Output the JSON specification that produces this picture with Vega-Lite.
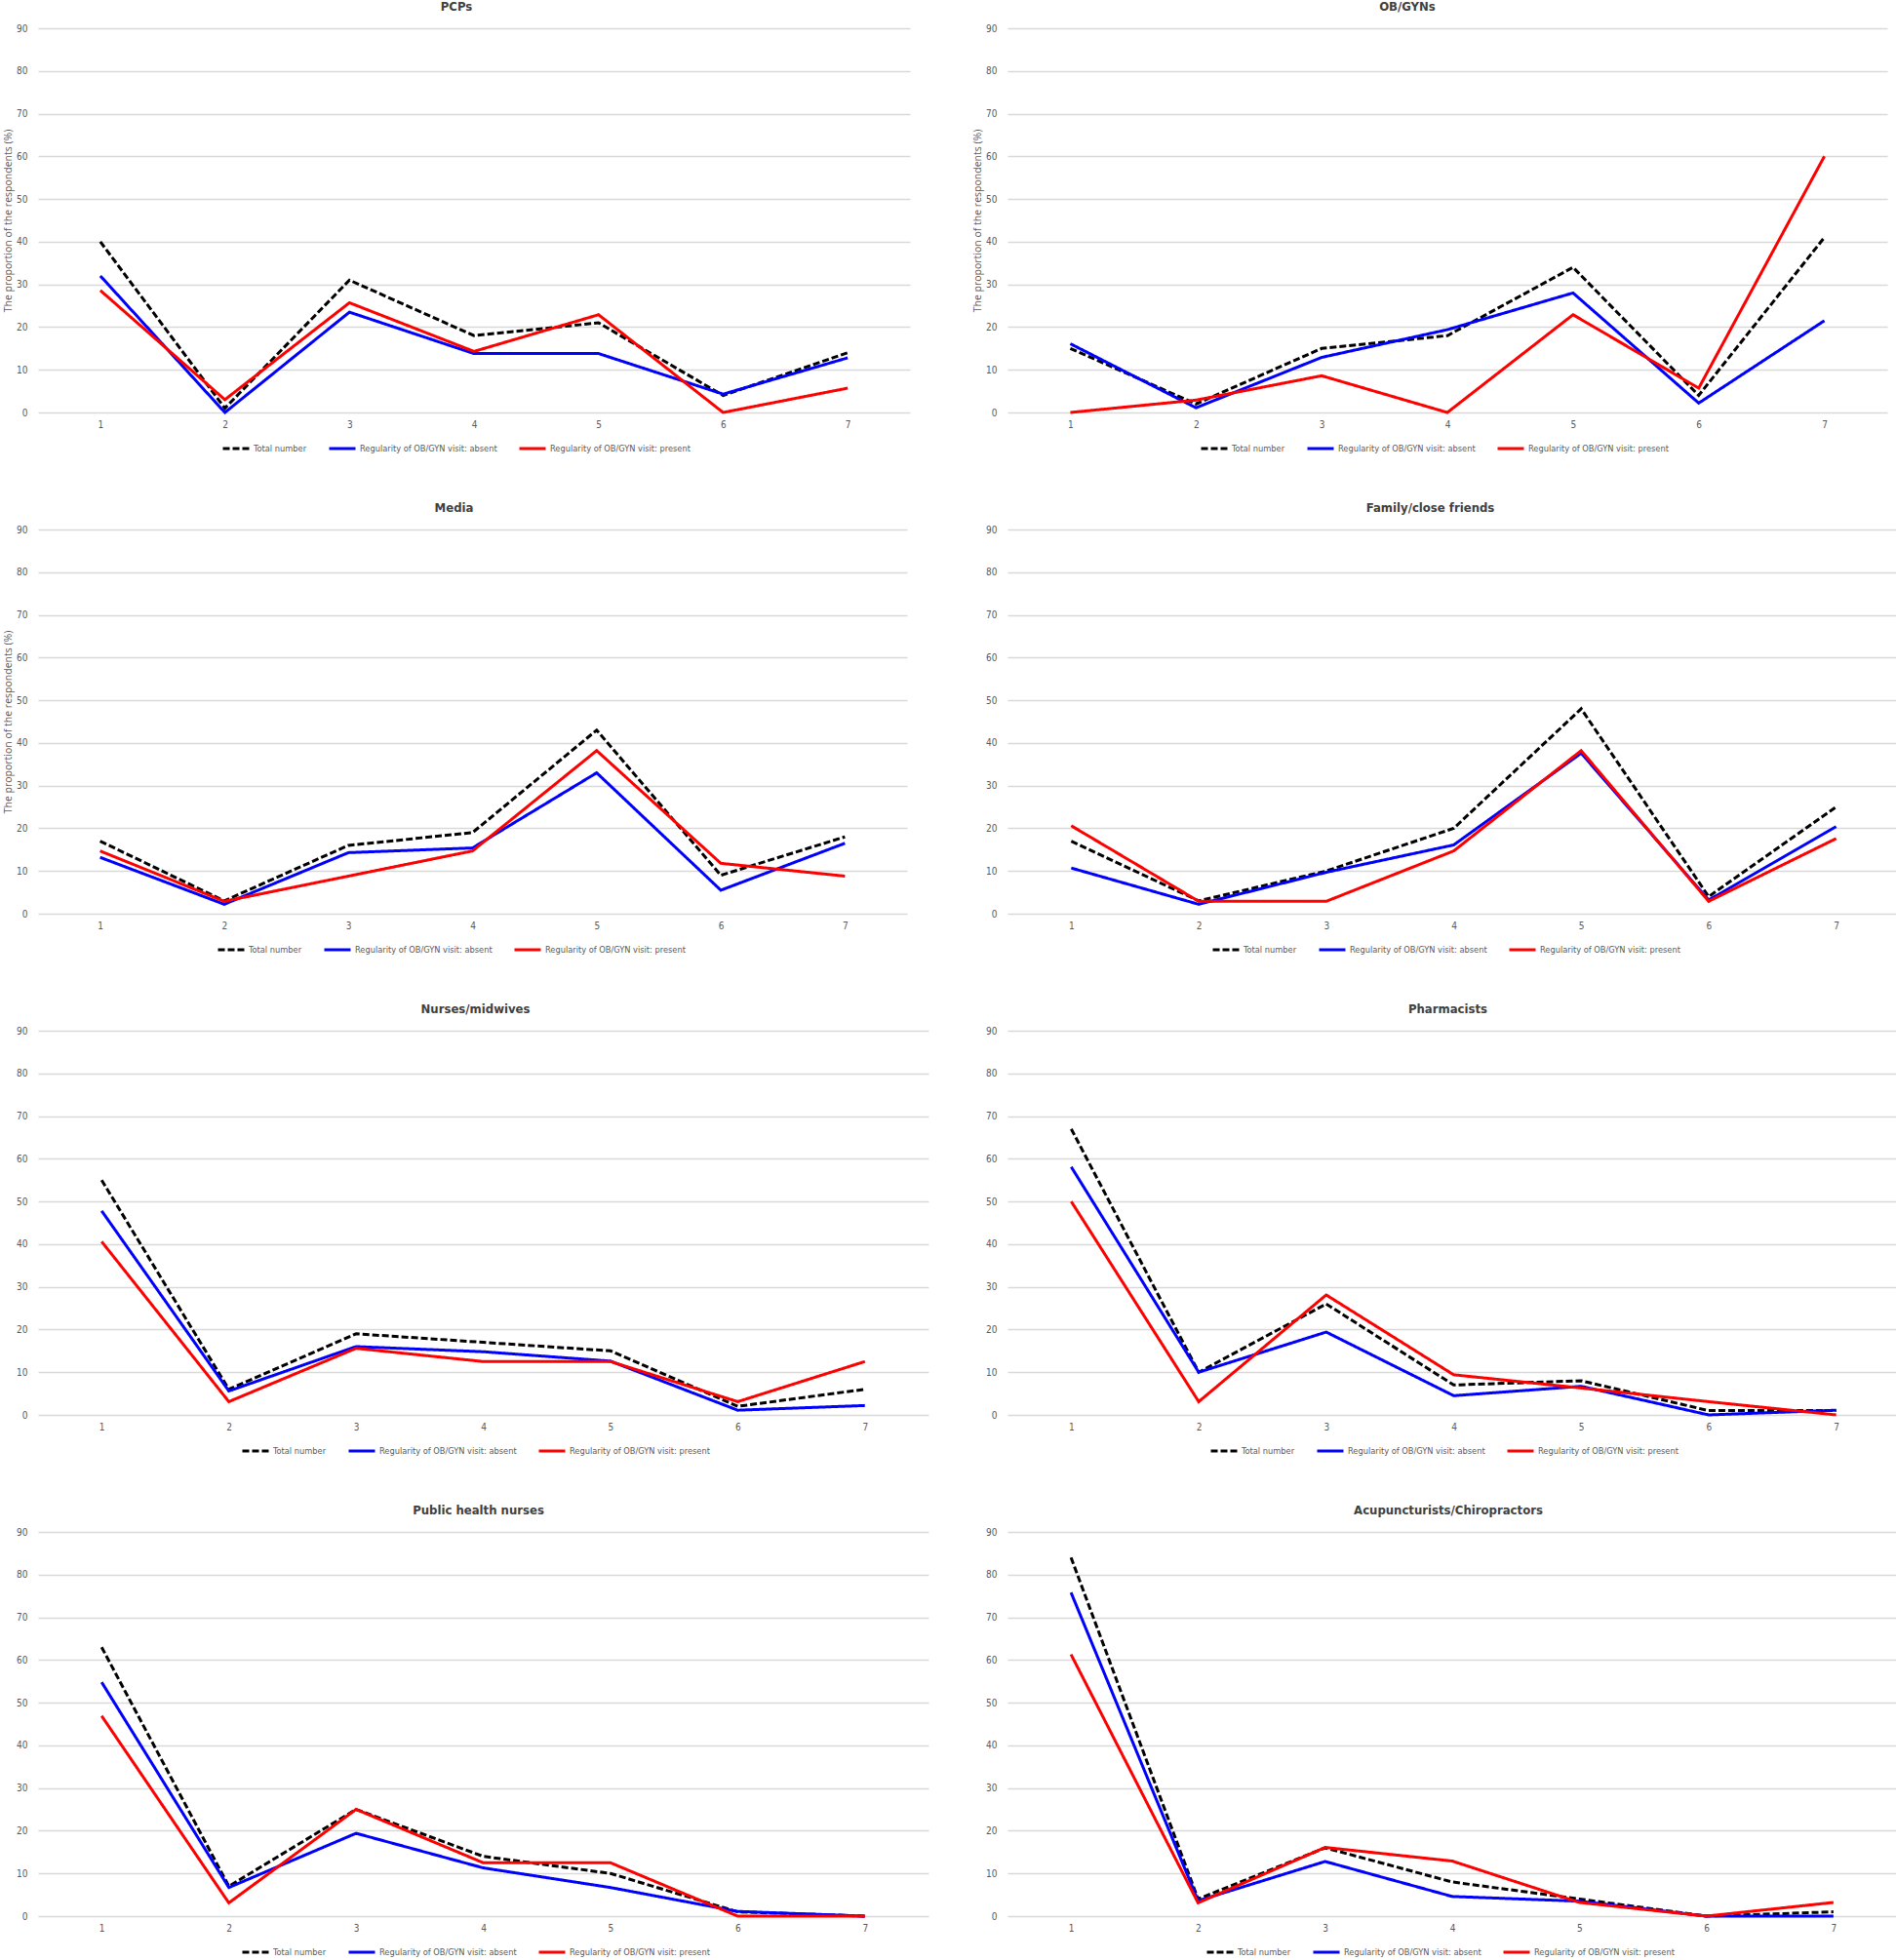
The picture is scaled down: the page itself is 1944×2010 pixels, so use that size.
{
  "$schema": "https://vega.github.io/schema/vega-lite/v6.json",
  "padding": {"left": 3, "top": 1, "right": 0, "bottom": 0},
  "background": "white",
  "data": {"values": [
    {"p":"PCPs","s":"Total number","c":1,"v":40},{"p":"PCPs","s":"Total number","c":2,"v":1},{"p":"PCPs","s":"Total number","c":3,"v":31},{"p":"PCPs","s":"Total number","c":4,"v":18},{"p":"PCPs","s":"Total number","c":5,"v":21},{"p":"PCPs","s":"Total number","c":6,"v":4},{"p":"PCPs","s":"Total number","c":7,"v":14},
    {"p":"PCPs","s":"Regularity of OB/GYN visit: absent","c":1,"v":32},{"p":"PCPs","s":"Regularity of OB/GYN visit: absent","c":2,"v":0},{"p":"PCPs","s":"Regularity of OB/GYN visit: absent","c":3,"v":23.5},{"p":"PCPs","s":"Regularity of OB/GYN visit: absent","c":4,"v":13.8},{"p":"PCPs","s":"Regularity of OB/GYN visit: absent","c":5,"v":13.8},{"p":"PCPs","s":"Regularity of OB/GYN visit: absent","c":6,"v":4.3},{"p":"PCPs","s":"Regularity of OB/GYN visit: absent","c":7,"v":12.8},
    {"p":"PCPs","s":"Regularity of OB/GYN visit: present","c":1,"v":28.6},{"p":"PCPs","s":"Regularity of OB/GYN visit: present","c":2,"v":3},{"p":"PCPs","s":"Regularity of OB/GYN visit: present","c":3,"v":25.7},{"p":"PCPs","s":"Regularity of OB/GYN visit: present","c":4,"v":14.3},{"p":"PCPs","s":"Regularity of OB/GYN visit: present","c":5,"v":22.9},{"p":"PCPs","s":"Regularity of OB/GYN visit: present","c":6,"v":0},{"p":"PCPs","s":"Regularity of OB/GYN visit: present","c":7,"v":5.7},

    {"p":"OB/GYNs","s":"Total number","c":1,"v":15},{"p":"OB/GYNs","s":"Total number","c":2,"v":2},{"p":"OB/GYNs","s":"Total number","c":3,"v":15},{"p":"OB/GYNs","s":"Total number","c":4,"v":18},{"p":"OB/GYNs","s":"Total number","c":5,"v":34},{"p":"OB/GYNs","s":"Total number","c":6,"v":4},{"p":"OB/GYNs","s":"Total number","c":7,"v":41},
    {"p":"OB/GYNs","s":"Regularity of OB/GYN visit: absent","c":1,"v":16.1},{"p":"OB/GYNs","s":"Regularity of OB/GYN visit: absent","c":2,"v":1.1},{"p":"OB/GYNs","s":"Regularity of OB/GYN visit: absent","c":3,"v":12.9},{"p":"OB/GYNs","s":"Regularity of OB/GYN visit: absent","c":4,"v":19.4},{"p":"OB/GYNs","s":"Regularity of OB/GYN visit: absent","c":5,"v":28},{"p":"OB/GYNs","s":"Regularity of OB/GYN visit: absent","c":6,"v":2.2},{"p":"OB/GYNs","s":"Regularity of OB/GYN visit: absent","c":7,"v":21.5},
    {"p":"OB/GYNs","s":"Regularity of OB/GYN visit: present","c":1,"v":0},{"p":"OB/GYNs","s":"Regularity of OB/GYN visit: present","c":2,"v":2.9},{"p":"OB/GYNs","s":"Regularity of OB/GYN visit: present","c":3,"v":8.6},{"p":"OB/GYNs","s":"Regularity of OB/GYN visit: present","c":4,"v":0},{"p":"OB/GYNs","s":"Regularity of OB/GYN visit: present","c":5,"v":22.9},{"p":"OB/GYNs","s":"Regularity of OB/GYN visit: present","c":6,"v":5.7},{"p":"OB/GYNs","s":"Regularity of OB/GYN visit: present","c":7,"v":60},

    {"p":"Media","s":"Total number","c":1,"v":17},{"p":"Media","s":"Total number","c":2,"v":3},{"p":"Media","s":"Total number","c":3,"v":16},{"p":"Media","s":"Total number","c":4,"v":19},{"p":"Media","s":"Total number","c":5,"v":43},{"p":"Media","s":"Total number","c":6,"v":9},{"p":"Media","s":"Total number","c":7,"v":18},
    {"p":"Media","s":"Regularity of OB/GYN visit: absent","c":1,"v":13.2},{"p":"Media","s":"Regularity of OB/GYN visit: absent","c":2,"v":2.2},{"p":"Media","s":"Regularity of OB/GYN visit: absent","c":3,"v":14.3},{"p":"Media","s":"Regularity of OB/GYN visit: absent","c":4,"v":15.4},{"p":"Media","s":"Regularity of OB/GYN visit: absent","c":5,"v":33},{"p":"Media","s":"Regularity of OB/GYN visit: absent","c":6,"v":5.5},{"p":"Media","s":"Regularity of OB/GYN visit: absent","c":7,"v":16.5},
    {"p":"Media","s":"Regularity of OB/GYN visit: present","c":1,"v":14.7},{"p":"Media","s":"Regularity of OB/GYN visit: present","c":2,"v":2.9},{"p":"Media","s":"Regularity of OB/GYN visit: present","c":3,"v":8.8},{"p":"Media","s":"Regularity of OB/GYN visit: present","c":4,"v":14.7},{"p":"Media","s":"Regularity of OB/GYN visit: present","c":5,"v":38.2},{"p":"Media","s":"Regularity of OB/GYN visit: present","c":6,"v":11.8},{"p":"Media","s":"Regularity of OB/GYN visit: present","c":7,"v":8.8},

    {"p":"Family/close friends","s":"Total number","c":1,"v":17},{"p":"Family/close friends","s":"Total number","c":2,"v":3},{"p":"Family/close friends","s":"Total number","c":3,"v":10},{"p":"Family/close friends","s":"Total number","c":4,"v":20},{"p":"Family/close friends","s":"Total number","c":5,"v":48},{"p":"Family/close friends","s":"Total number","c":6,"v":4},{"p":"Family/close friends","s":"Total number","c":7,"v":25},
    {"p":"Family/close friends","s":"Regularity of OB/GYN visit: absent","c":1,"v":10.7},{"p":"Family/close friends","s":"Regularity of OB/GYN visit: absent","c":2,"v":2.2},{"p":"Family/close friends","s":"Regularity of OB/GYN visit: absent","c":3,"v":9.7},{"p":"Family/close friends","s":"Regularity of OB/GYN visit: absent","c":4,"v":16.1},{"p":"Family/close friends","s":"Regularity of OB/GYN visit: absent","c":5,"v":37.6},{"p":"Family/close friends","s":"Regularity of OB/GYN visit: absent","c":6,"v":3.2},{"p":"Family/close friends","s":"Regularity of OB/GYN visit: absent","c":7,"v":20.4},
    {"p":"Family/close friends","s":"Regularity of OB/GYN visit: present","c":1,"v":20.6},{"p":"Family/close friends","s":"Regularity of OB/GYN visit: present","c":2,"v":2.9},{"p":"Family/close friends","s":"Regularity of OB/GYN visit: present","c":3,"v":2.9},{"p":"Family/close friends","s":"Regularity of OB/GYN visit: present","c":4,"v":14.7},{"p":"Family/close friends","s":"Regularity of OB/GYN visit: present","c":5,"v":38.2},{"p":"Family/close friends","s":"Regularity of OB/GYN visit: present","c":6,"v":2.9},{"p":"Family/close friends","s":"Regularity of OB/GYN visit: present","c":7,"v":17.6},

    {"p":"Nurses/midwives","s":"Total number","c":1,"v":55},{"p":"Nurses/midwives","s":"Total number","c":2,"v":6},{"p":"Nurses/midwives","s":"Total number","c":3,"v":19},{"p":"Nurses/midwives","s":"Total number","c":4,"v":17},{"p":"Nurses/midwives","s":"Total number","c":5,"v":15},{"p":"Nurses/midwives","s":"Total number","c":6,"v":2},{"p":"Nurses/midwives","s":"Total number","c":7,"v":6},
    {"p":"Nurses/midwives","s":"Regularity of OB/GYN visit: absent","c":1,"v":47.8},{"p":"Nurses/midwives","s":"Regularity of OB/GYN visit: absent","c":2,"v":5.6},{"p":"Nurses/midwives","s":"Regularity of OB/GYN visit: absent","c":3,"v":16},{"p":"Nurses/midwives","s":"Regularity of OB/GYN visit: absent","c":4,"v":14.8},{"p":"Nurses/midwives","s":"Regularity of OB/GYN visit: absent","c":5,"v":12.6},{"p":"Nurses/midwives","s":"Regularity of OB/GYN visit: absent","c":6,"v":1.1},{"p":"Nurses/midwives","s":"Regularity of OB/GYN visit: absent","c":7,"v":2.2},
    {"p":"Nurses/midwives","s":"Regularity of OB/GYN visit: present","c":1,"v":40.6},{"p":"Nurses/midwives","s":"Regularity of OB/GYN visit: present","c":2,"v":3.1},{"p":"Nurses/midwives","s":"Regularity of OB/GYN visit: present","c":3,"v":15.6},{"p":"Nurses/midwives","s":"Regularity of OB/GYN visit: present","c":4,"v":12.5},{"p":"Nurses/midwives","s":"Regularity of OB/GYN visit: present","c":5,"v":12.5},{"p":"Nurses/midwives","s":"Regularity of OB/GYN visit: present","c":6,"v":3.1},{"p":"Nurses/midwives","s":"Regularity of OB/GYN visit: present","c":7,"v":12.5},

    {"p":"Pharmacists","s":"Total number","c":1,"v":67},{"p":"Pharmacists","s":"Total number","c":2,"v":10},{"p":"Pharmacists","s":"Total number","c":3,"v":26},{"p":"Pharmacists","s":"Total number","c":4,"v":7},{"p":"Pharmacists","s":"Total number","c":5,"v":8},{"p":"Pharmacists","s":"Total number","c":6,"v":1},{"p":"Pharmacists","s":"Total number","c":7,"v":1},
    {"p":"Pharmacists","s":"Regularity of OB/GYN visit: absent","c":1,"v":58.1},{"p":"Pharmacists","s":"Regularity of OB/GYN visit: absent","c":2,"v":10},{"p":"Pharmacists","s":"Regularity of OB/GYN visit: absent","c":3,"v":19.4},{"p":"Pharmacists","s":"Regularity of OB/GYN visit: absent","c":4,"v":4.5},{"p":"Pharmacists","s":"Regularity of OB/GYN visit: absent","c":5,"v":6.7},{"p":"Pharmacists","s":"Regularity of OB/GYN visit: absent","c":6,"v":0},{"p":"Pharmacists","s":"Regularity of OB/GYN visit: absent","c":7,"v":1.1},
    {"p":"Pharmacists","s":"Regularity of OB/GYN visit: present","c":1,"v":50},{"p":"Pharmacists","s":"Regularity of OB/GYN visit: present","c":2,"v":3.1},{"p":"Pharmacists","s":"Regularity of OB/GYN visit: present","c":3,"v":28.1},{"p":"Pharmacists","s":"Regularity of OB/GYN visit: present","c":4,"v":9.4},{"p":"Pharmacists","s":"Regularity of OB/GYN visit: present","c":5,"v":6.3},{"p":"Pharmacists","s":"Regularity of OB/GYN visit: present","c":6,"v":3.1},{"p":"Pharmacists","s":"Regularity of OB/GYN visit: present","c":7,"v":0},

    {"p":"Public health nurses","s":"Total number","c":1,"v":63},{"p":"Public health nurses","s":"Total number","c":2,"v":7},{"p":"Public health nurses","s":"Total number","c":3,"v":25},{"p":"Public health nurses","s":"Total number","c":4,"v":14},{"p":"Public health nurses","s":"Total number","c":5,"v":10},{"p":"Public health nurses","s":"Total number","c":6,"v":1},{"p":"Public health nurses","s":"Total number","c":7,"v":0},
    {"p":"Public health nurses","s":"Regularity of OB/GYN visit: absent","c":1,"v":54.8},{"p":"Public health nurses","s":"Regularity of OB/GYN visit: absent","c":2,"v":6.7},{"p":"Public health nurses","s":"Regularity of OB/GYN visit: absent","c":3,"v":19.4},{"p":"Public health nurses","s":"Regularity of OB/GYN visit: absent","c":4,"v":11.3},{"p":"Public health nurses","s":"Regularity of OB/GYN visit: absent","c":5,"v":6.7},{"p":"Public health nurses","s":"Regularity of OB/GYN visit: absent","c":6,"v":1.1},{"p":"Public health nurses","s":"Regularity of OB/GYN visit: absent","c":7,"v":0},
    {"p":"Public health nurses","s":"Regularity of OB/GYN visit: present","c":1,"v":46.9},{"p":"Public health nurses","s":"Regularity of OB/GYN visit: present","c":2,"v":3.1},{"p":"Public health nurses","s":"Regularity of OB/GYN visit: present","c":3,"v":25},{"p":"Public health nurses","s":"Regularity of OB/GYN visit: present","c":4,"v":12.5},{"p":"Public health nurses","s":"Regularity of OB/GYN visit: present","c":5,"v":12.5},{"p":"Public health nurses","s":"Regularity of OB/GYN visit: present","c":6,"v":0},{"p":"Public health nurses","s":"Regularity of OB/GYN visit: present","c":7,"v":0},

    {"p":"Acupuncturists/Chiropractors","s":"Total number","c":1,"v":84},{"p":"Acupuncturists/Chiropractors","s":"Total number","c":2,"v":4},{"p":"Acupuncturists/Chiropractors","s":"Total number","c":3,"v":16},{"p":"Acupuncturists/Chiropractors","s":"Total number","c":4,"v":8},{"p":"Acupuncturists/Chiropractors","s":"Total number","c":5,"v":4},{"p":"Acupuncturists/Chiropractors","s":"Total number","c":6,"v":0},{"p":"Acupuncturists/Chiropractors","s":"Total number","c":7,"v":1},
    {"p":"Acupuncturists/Chiropractors","s":"Regularity of OB/GYN visit: absent","c":1,"v":75.8},{"p":"Acupuncturists/Chiropractors","s":"Regularity of OB/GYN visit: absent","c":2,"v":3.6},{"p":"Acupuncturists/Chiropractors","s":"Regularity of OB/GYN visit: absent","c":3,"v":12.8},{"p":"Acupuncturists/Chiropractors","s":"Regularity of OB/GYN visit: absent","c":4,"v":4.6},{"p":"Acupuncturists/Chiropractors","s":"Regularity of OB/GYN visit: absent","c":5,"v":3.5},{"p":"Acupuncturists/Chiropractors","s":"Regularity of OB/GYN visit: absent","c":6,"v":0},{"p":"Acupuncturists/Chiropractors","s":"Regularity of OB/GYN visit: absent","c":7,"v":0},
    {"p":"Acupuncturists/Chiropractors","s":"Regularity of OB/GYN visit: present","c":1,"v":61.3},{"p":"Acupuncturists/Chiropractors","s":"Regularity of OB/GYN visit: present","c":2,"v":3.1},{"p":"Acupuncturists/Chiropractors","s":"Regularity of OB/GYN visit: present","c":3,"v":16.1},{"p":"Acupuncturists/Chiropractors","s":"Regularity of OB/GYN visit: present","c":4,"v":12.9},{"p":"Acupuncturists/Chiropractors","s":"Regularity of OB/GYN visit: present","c":5,"v":3.2},{"p":"Acupuncturists/Chiropractors","s":"Regularity of OB/GYN visit: present","c":6,"v":0},{"p":"Acupuncturists/Chiropractors","s":"Regularity of OB/GYN visit: present","c":7,"v":3.2}
  ]},
  "columns": 2,
  "bounds": "flush",
  "spacing": {"row": 120, "column": 81},
  "resolve": {
    "scale": {"color": "independent", "strokeDash": "independent", "x": "independent", "y": "independent"},
    "legend": {"color": "independent", "strokeDash": "independent"}
  },
  "concat": [
    {
      "title": {"text": "PCPs", "dx": -18},
      "width": 894, "height": 394,
      "transform": [{"filter": {"field": "p", "equal": "PCPs"}}],
      "mark": {"type": "line", "strokeWidth": 3, "strokeCap": "butt"},
      "encoding": {
        "x": {"field": "c", "type": "ordinal", "scale": {"padding": 0.5}, "axis": {"title": null}},
        "y": {"field": "v", "type": "quantitative", "scale": {"domain": [0, 90]}, "axis": {"title": "The proportion of the respondents (%)", "values": [0,10,20,30,40,50,60,70,80,90]}},
        "color": {"field": "s", "type": "nominal", "scale": {"domain": ["Total number", "Regularity of OB/GYN visit: absent", "Regularity of OB/GYN visit: present"], "range": ["#000000", "#0000ff", "#ff0000"]}, "legend": {"orient": "none", "legendX": 188, "legendY": 416, "direction": "horizontal", "title": null}},
        "strokeDash": {"field": "s", "type": "nominal", "scale": {"domain": ["Total number", "Regularity of OB/GYN visit: absent", "Regularity of OB/GYN visit: present"], "range": [[7, 3], [1, 0], [1, 0]]}, "legend": {"orient": "none", "legendX": 188, "legendY": 416, "direction": "horizontal", "title": null}}
      }
    },
    {
      "title": {"text": "OB/GYNs", "dx": -41},
      "width": 902, "height": 394,
      "transform": [{"filter": {"field": "p", "equal": "OB/GYNs"}}],
      "mark": {"type": "line", "strokeWidth": 3, "strokeCap": "butt"},
      "encoding": {
        "x": {"field": "c", "type": "ordinal", "scale": {"padding": 0.5}, "axis": {"title": null}},
        "y": {"field": "v", "type": "quantitative", "scale": {"domain": [0, 90]}, "axis": {"title": "The proportion of the respondents (%)", "values": [0,10,20,30,40,50,60,70,80,90]}},
        "color": {"field": "s", "type": "nominal", "scale": {"domain": ["Total number", "Regularity of OB/GYN visit: absent", "Regularity of OB/GYN visit: present"], "range": ["#000000", "#0000ff", "#ff0000"]}, "legend": {"orient": "none", "legendX": 197, "legendY": 416, "direction": "horizontal", "title": null}},
        "strokeDash": {"field": "s", "type": "nominal", "scale": {"domain": ["Total number", "Regularity of OB/GYN visit: absent", "Regularity of OB/GYN visit: present"], "range": [[7, 3], [1, 0], [1, 0]]}, "legend": {"orient": "none", "legendX": 197, "legendY": 416, "direction": "horizontal", "title": null}}
      }
    },
    {
      "title": {"text": "Media", "dx": -19},
      "width": 891, "height": 394,
      "transform": [{"filter": {"field": "p", "equal": "Media"}}],
      "mark": {"type": "line", "strokeWidth": 3, "strokeCap": "butt"},
      "encoding": {
        "x": {"field": "c", "type": "ordinal", "scale": {"padding": 0.5}, "axis": {"title": null}},
        "y": {"field": "v", "type": "quantitative", "scale": {"domain": [0, 90]}, "axis": {"title": "The proportion of the respondents (%)", "values": [0,10,20,30,40,50,60,70,80,90]}},
        "color": {"field": "s", "type": "nominal", "scale": {"domain": ["Total number", "Regularity of OB/GYN visit: absent", "Regularity of OB/GYN visit: present"], "range": ["#000000", "#0000ff", "#ff0000"]}, "legend": {"orient": "none", "legendX": 183, "legendY": 416, "direction": "horizontal", "title": null}},
        "strokeDash": {"field": "s", "type": "nominal", "scale": {"domain": ["Total number", "Regularity of OB/GYN visit: absent", "Regularity of OB/GYN visit: present"], "range": [[7, 3], [1, 0], [1, 0]]}, "legend": {"orient": "none", "legendX": 183, "legendY": 416, "direction": "horizontal", "title": null}}
      }
    },
    {
      "title": {"text": "Family/close friends", "dx": -24},
      "width": 915, "height": 394,
      "transform": [{"filter": {"field": "p", "equal": "Family/close friends"}}],
      "mark": {"type": "line", "strokeWidth": 3, "strokeCap": "butt"},
      "encoding": {
        "x": {"field": "c", "type": "ordinal", "scale": {"padding": 0.5}, "axis": {"title": null}},
        "y": {"field": "v", "type": "quantitative", "scale": {"domain": [0, 90]}, "axis": {"title": null, "values": [0,10,20,30,40,50,60,70,80,90]}},
        "color": {"field": "s", "type": "nominal", "scale": {"domain": ["Total number", "Regularity of OB/GYN visit: absent", "Regularity of OB/GYN visit: present"], "range": ["#000000", "#0000ff", "#ff0000"]}, "legend": {"orient": "none", "legendX": 209, "legendY": 416, "direction": "horizontal", "title": null}},
        "strokeDash": {"field": "s", "type": "nominal", "scale": {"domain": ["Total number", "Regularity of OB/GYN visit: absent", "Regularity of OB/GYN visit: present"], "range": [[7, 3], [1, 0], [1, 0]]}, "legend": {"orient": "none", "legendX": 209, "legendY": 416, "direction": "horizontal", "title": null}}
      }
    },
    {
      "title": {"text": "Nurses/midwives", "dx": -8},
      "width": 913, "height": 394,
      "transform": [{"filter": {"field": "p", "equal": "Nurses/midwives"}}],
      "mark": {"type": "line", "strokeWidth": 3, "strokeCap": "butt"},
      "encoding": {
        "x": {"field": "c", "type": "ordinal", "scale": {"padding": 0.5}, "axis": {"title": null}},
        "y": {"field": "v", "type": "quantitative", "scale": {"domain": [0, 90]}, "axis": {"title": null, "values": [0,10,20,30,40,50,60,70,80,90]}},
        "color": {"field": "s", "type": "nominal", "scale": {"domain": ["Total number", "Regularity of OB/GYN visit: absent", "Regularity of OB/GYN visit: present"], "range": ["#000000", "#0000ff", "#ff0000"]}, "legend": {"orient": "none", "legendX": 208, "legendY": 416, "direction": "horizontal", "title": null}},
        "strokeDash": {"field": "s", "type": "nominal", "scale": {"domain": ["Total number", "Regularity of OB/GYN visit: absent", "Regularity of OB/GYN visit: present"], "range": [[7, 3], [1, 0], [1, 0]]}, "legend": {"orient": "none", "legendX": 208, "legendY": 416, "direction": "horizontal", "title": null}}
      }
    },
    {
      "title": {"text": "Pharmacists", "dx": -6},
      "width": 915, "height": 394,
      "transform": [{"filter": {"field": "p", "equal": "Pharmacists"}}],
      "mark": {"type": "line", "strokeWidth": 3, "strokeCap": "butt"},
      "encoding": {
        "x": {"field": "c", "type": "ordinal", "scale": {"padding": 0.5}, "axis": {"title": null}},
        "y": {"field": "v", "type": "quantitative", "scale": {"domain": [0, 90]}, "axis": {"title": null, "values": [0,10,20,30,40,50,60,70,80,90]}},
        "color": {"field": "s", "type": "nominal", "scale": {"domain": ["Total number", "Regularity of OB/GYN visit: absent", "Regularity of OB/GYN visit: present"], "range": ["#000000", "#0000ff", "#ff0000"]}, "legend": {"orient": "none", "legendX": 207, "legendY": 416, "direction": "horizontal", "title": null}},
        "strokeDash": {"field": "s", "type": "nominal", "scale": {"domain": ["Total number", "Regularity of OB/GYN visit: absent", "Regularity of OB/GYN visit: present"], "range": [[7, 3], [1, 0], [1, 0]]}, "legend": {"orient": "none", "legendX": 207, "legendY": 416, "direction": "horizontal", "title": null}}
      }
    },
    {
      "title": {"text": "Public health nurses", "dx": -5},
      "width": 913, "height": 394,
      "transform": [{"filter": {"field": "p", "equal": "Public health nurses"}}],
      "mark": {"type": "line", "strokeWidth": 3, "strokeCap": "butt"},
      "encoding": {
        "x": {"field": "c", "type": "ordinal", "scale": {"padding": 0.5}, "axis": {"title": null}},
        "y": {"field": "v", "type": "quantitative", "scale": {"domain": [0, 90]}, "axis": {"title": null, "values": [0,10,20,30,40,50,60,70,80,90]}},
        "color": {"field": "s", "type": "nominal", "scale": {"domain": ["Total number", "Regularity of OB/GYN visit: absent", "Regularity of OB/GYN visit: present"], "range": ["#000000", "#0000ff", "#ff0000"]}, "legend": {"orient": "none", "legendX": 208, "legendY": 416, "direction": "horizontal", "title": null}},
        "strokeDash": {"field": "s", "type": "nominal", "scale": {"domain": ["Total number", "Regularity of OB/GYN visit: absent", "Regularity of OB/GYN visit: present"], "range": [[7, 3], [1, 0], [1, 0]]}, "legend": {"orient": "none", "legendX": 208, "legendY": 416, "direction": "horizontal", "title": null}}
      }
    },
    {
      "title": {"text": "Acupuncturists/Chiropractors", "dx": -4},
      "width": 912, "height": 394,
      "transform": [{"filter": {"field": "p", "equal": "Acupuncturists/Chiropractors"}}],
      "mark": {"type": "line", "strokeWidth": 3, "strokeCap": "butt"},
      "encoding": {
        "x": {"field": "c", "type": "ordinal", "scale": {"padding": 0.5}, "axis": {"title": null}},
        "y": {"field": "v", "type": "quantitative", "scale": {"domain": [0, 90]}, "axis": {"title": null, "values": [0,10,20,30,40,50,60,70,80,90]}},
        "color": {"field": "s", "type": "nominal", "scale": {"domain": ["Total number", "Regularity of OB/GYN visit: absent", "Regularity of OB/GYN visit: present"], "range": ["#000000", "#0000ff", "#ff0000"]}, "legend": {"orient": "none", "legendX": 203, "legendY": 416, "direction": "horizontal", "title": null}},
        "strokeDash": {"field": "s", "type": "nominal", "scale": {"domain": ["Total number", "Regularity of OB/GYN visit: absent", "Regularity of OB/GYN visit: present"], "range": [[7, 3], [1, 0], [1, 0]]}, "legend": {"orient": "none", "legendX": 203, "legendY": 416, "direction": "horizontal", "title": null}}
      }
    }
  ],
  "config": {
    "view": {"stroke": null},
    "title": {"font": "Liberation Sans Narrow, DejaVu Sans Condensed, sans-serif", "fontSize": 13, "fontWeight": "bold", "color": "#404040", "offset": 10, "anchor": "middle"},
    "axis": {"labelFont": "Liberation Sans Narrow, DejaVu Sans Condensed, sans-serif", "labelFontSize": 10, "labelColor": "#595959", "ticks": false, "domain": false, "gridColor": "#d9d9d9", "gridWidth": 1.3, "titleFont": "Open Sans", "titleFontSize": 10.5, "titleFontWeight": "normal", "titleColor": "#595959"},
    "axisX": {"grid": false, "labelAngle": 0, "labelPadding": 7},
    "axisY": {"grid": true, "labelPadding": 11, "titlePadding": 3},
    "legend": {"symbolType": "stroke", "symbolSize": 729, "symbolStrokeWidth": 3, "labelFont": "Liberation Sans Narrow, DejaVu Sans Condensed, sans-serif", "labelFontSize": 9.2, "labelColor": "#595959", "labelLimit": 400, "columnPadding": 16, "labelOffset": 3, "padding": 0}
  }
}
